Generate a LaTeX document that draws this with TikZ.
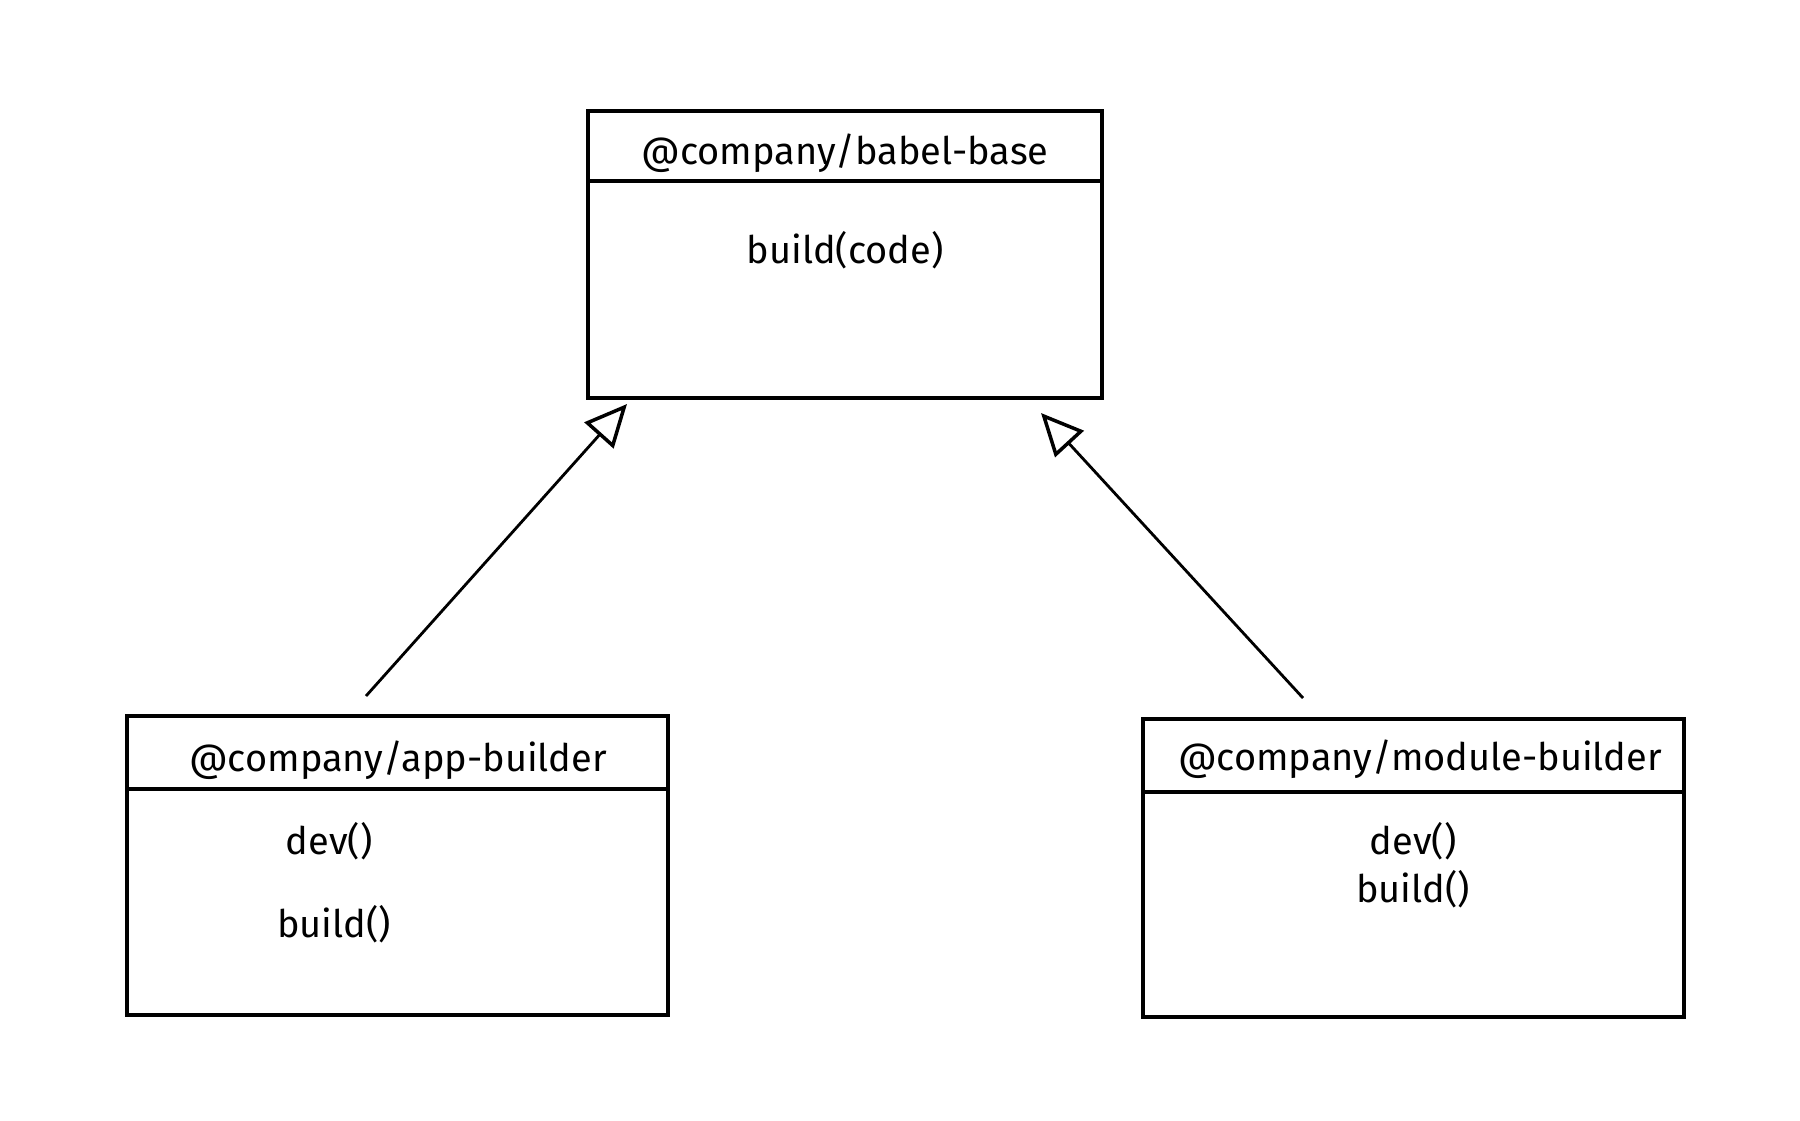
\documentclass[tikz,border=0pt]{standalone}
\usepackage{fontspec}
\setmainfont{Fira Sans}
\usetikzlibrary{arrows.meta}
\begin{document}
\begin{tikzpicture}[x=0.01cm,y=-0.01cm,
  box/.style={draw=black,line width=1.1pt,rectangle,inner sep=0pt},
  lbl/.style={font=\fontsize{10.8}{13}\selectfont,inner sep=0pt,anchor=center},
  sep/.style={draw=black,line width=1.1pt},
  inh/.style={draw=black,line width=0.8pt,-{Triangle[open,length=12pt,width=11pt,line width=1pt]}}]
\useasboundingbox (0,0) rectangle (1800,1120);
% base box
\node[box,minimum width=514*0.01cm,minimum height=287*0.01cm] (base) at (845,254.5) {};
\draw[sep] (588,181) -- (1102,181);
\node[lbl] (baset) at (845,153) {@company/babel-base};
\node[lbl] (basem) at (845,250) {build(code)};
% app box
\node[box,minimum width=541*0.01cm,minimum height=299*0.01cm] (app) at (397.5,865.5) {};
\draw[sep] (127,789) -- (668,789);
\node[lbl] (appt) at (398,760) {@company/app-builder};
\node[lbl] (appd) at (329,841) {dev()};
\node[lbl] (appb) at (334,924) {build()};
% module box
\node[box,minimum width=541*0.01cm,minimum height=298*0.01cm] (mod) at (1413.5,868) {};
\draw[sep] (1143,792) -- (1684,792);
\node[lbl] (modt) at (1420,759) {@company/module-builder};
\node[lbl] (modd) at (1413,841) {dev()};
\node[lbl] (modb) at (1413,889) {build()};
% connectors
\coordinate (s1) at (366,696);
\coordinate (e1) at (627,404);
\coordinate (s2) at (1303,698);
\coordinate (e2) at (1041,413);
\draw[inh] (s1) -- (e1);
\draw[inh] (s2) -- (e2);
\end{tikzpicture}
\end{document}
